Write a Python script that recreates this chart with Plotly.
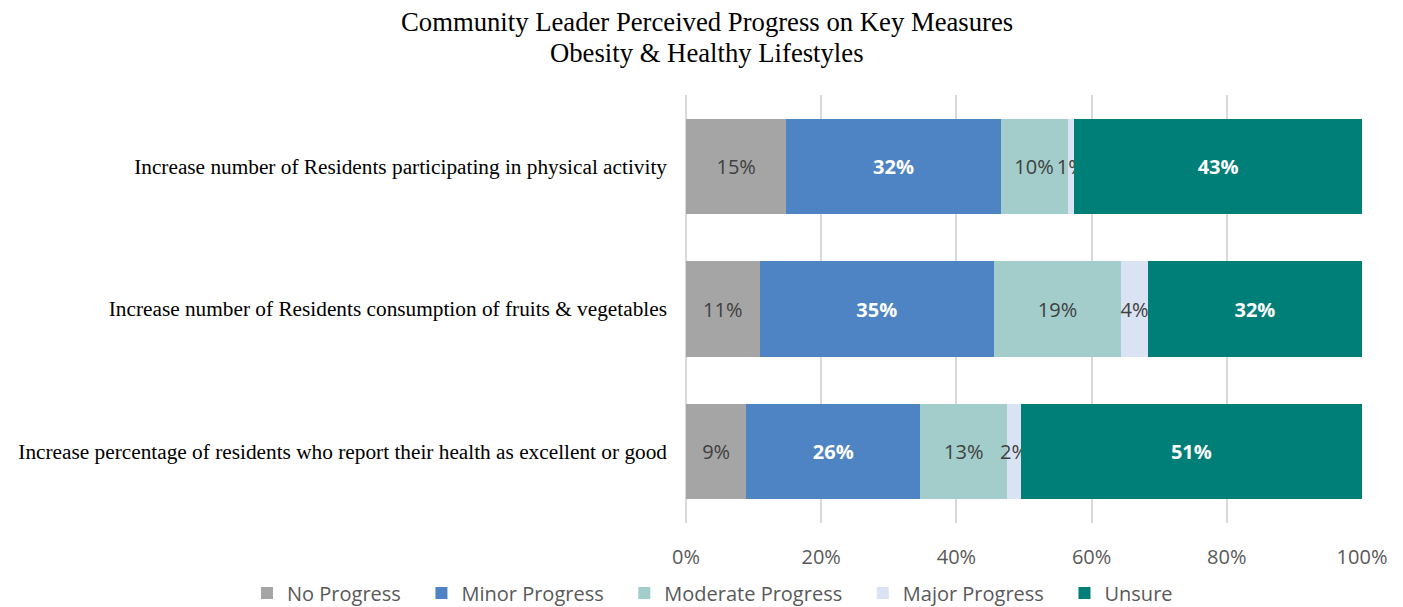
import plotly.graph_objects as go

categories = [
    "Increase number of Residents participating in physical activity",
    "Increase number of Residents consumption of fruits & vegetables",
    "Increase percentage of residents who report their health as excellent or good",
]
series_names = ["No Progress", "Minor Progress", "Moderate Progress", "Major Progress", "Unsure"]
no_progress = [15, 11, 9]
minor_progress = [32, 35, 26]
moderate_progress = [10, 19, 13]
major_progress = [1, 4, 2]
unsure = [43, 32, 51]
x_ticks = [0, 20, 40, 60, 80, 100]
x_tick_labels = ["0%", "20%", "40%", "60%", "80%", "100%"]
title_lines = ["Community Leader Perceived Progress on Key Measures", "Obesity & Healthy Lifestyles"]

series_values = [no_progress, minor_progress, moderate_progress, major_progress, unsure]
colors = ["#A5A5A5", "#4E84C4", "#A2CDCB", "#DAE3F3", "#007E78"]
label_styles = [
    dict(color="#404040", weight="normal"),
    dict(color="#FFFFFF", weight="bold"),
    dict(color="#404040", weight="normal"),
    dict(color="#404040", weight="normal"),
    dict(color="#FFFFFF", weight="bold"),
]

SANS = "Open Sans, Lato, sans-serif"
SERIF = "Liberation Serif, Times New Roman, serif"
LEGEND_PAD = "\u00a0" * 3  # extra room between legend entries

W, H = 1403, 607
M_L, M_R, M_T, M_B = 686, 41, 95, 84
plot_w = W - M_L - M_R
plot_h = H - M_T - M_B

fig = go.Figure()
for name, vals, col, style in zip(series_names, series_values, colors, label_styles):
    fig.add_trace(go.Bar(
        name=name + LEGEND_PAD,
        y=categories,
        x=vals,
        orientation="h",
        marker=dict(color=col, line=dict(width=0)),
        text=[f"{v}%" for v in vals],
        textposition="inside",
        insidetextanchor="middle",
        textangle=0,
        constraintext="none",
        textfont=dict(family=SANS, size=20, color=style["color"], weight=style["weight"]),
        hoverinfo="skip",
    ))

# two-line centred heading above the plot area
for line, y_px in zip(title_lines, [22, 53]):
    fig.add_annotation(
        text=line,
        xref="paper", yref="paper",
        x=(707 - M_L) / plot_w, xanchor="center",
        y=(H - M_B - y_px) / plot_h, yanchor="middle",
        showarrow=False,
        font=dict(family=SERIF, size=26.7, color="#000000"),
    )

fig.update_layout(
    barmode="stack",
    barnorm="percent",
    bargap=0.333,
    width=W,
    height=H,
    margin=dict(l=M_L, r=M_R, t=M_T, b=M_B, autoexpand=False),
    paper_bgcolor="white",
    plot_bgcolor="white",
    uniformtext=dict(minsize=20, mode="show"),
    legend=dict(
        orientation="h",
        x=(247 - M_L) / plot_w, xanchor="left",
        y=(H - M_B - 593) / plot_h, yanchor="middle",
        font=dict(family=SANS, size=20, color="#595959"),
        traceorder="normal",
        itemwidth=30,
    ),
    xaxis=dict(
        range=[0, 100],
        tickvals=x_ticks,
        ticktext=x_tick_labels,
        showgrid=True,
        gridcolor="#D9D9D9",
        gridwidth=1.5,
        zeroline=True,
        zerolinecolor="#D9D9D9",
        zerolinewidth=1.5,
        showline=False,
        ticks="",
        ticklabelstandoff=20,
        tickfont=dict(family=SANS, size=20, color="#595959"),
        automargin=False,
        fixedrange=True,
    ),
    yaxis=dict(
        categoryorder="array",
        categoryarray=categories,
        autorange="reversed",
        showgrid=False,
        zeroline=False,
        showline=False,
        ticks="",
        ticklabelstandoff=18,
        tickfont=dict(family=SERIF, size=21.3, color="#000000"),
        automargin=False,
        fixedrange=True,
    ),
)

fig.write_html("out.html")
